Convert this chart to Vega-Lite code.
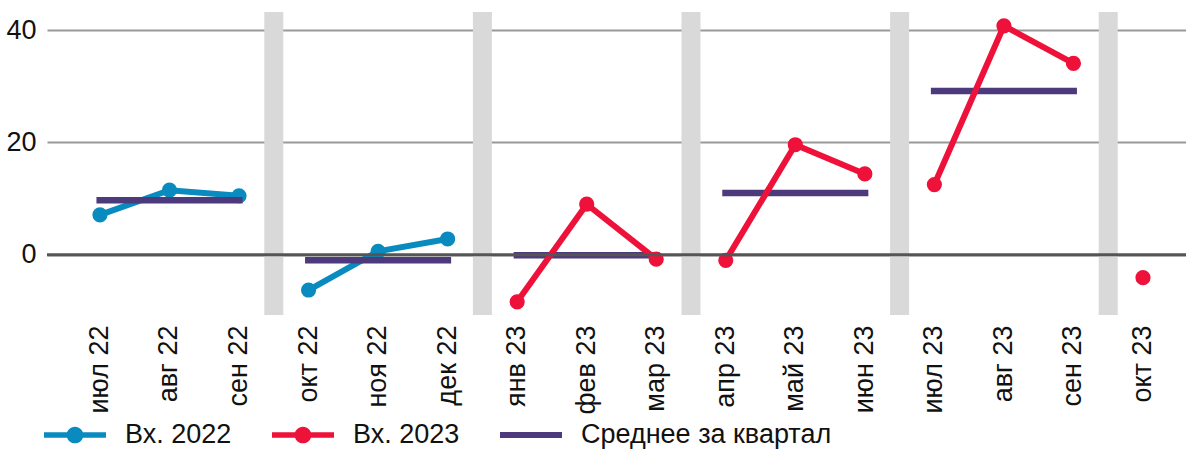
{
  "$schema": "https://vega.github.io/schema/vega-lite/v6.json",
  "autosize": "none",
  "width": 1139,
  "height": 303,
  "padding": {"left": 47, "top": 12, "right": 0, "bottom": 134},
  "background": "white",
  "config": {
    "view": {"stroke": null},
    "font": "Liberation Sans",
    "axis": {"labelFont": "Liberation Sans", "labelColor": "#111111"},
    "legend": {"labelFont": "Liberation Sans"}
  },
  "datasets": {
    "pts": [
      {"month": "июл 22", "value": 7.1, "series": "Вх. 2022", "quarter": "Q3 22"},
      {"month": "авг 22", "value": 11.5, "series": "Вх. 2022", "quarter": "Q3 22"},
      {"month": "сен 22", "value": 10.5, "series": "Вх. 2022", "quarter": "Q3 22"},
      {"month": "окт 22", "value": -6.3, "series": "Вх. 2022", "quarter": "Q4 22"},
      {"month": "ноя 22", "value": 0.6, "series": "Вх. 2022", "quarter": "Q4 22"},
      {"month": "дек 22", "value": 2.8, "series": "Вх. 2022", "quarter": "Q4 22"},
      {"month": "янв 23", "value": -8.4, "series": "Вх. 2023", "quarter": "Q1 23"},
      {"month": "фев 23", "value": 9.0, "series": "Вх. 2023", "quarter": "Q1 23"},
      {"month": "мар 23", "value": -0.8, "series": "Вх. 2023", "quarter": "Q1 23"},
      {"month": "апр 23", "value": -1.0, "series": "Вх. 2023", "quarter": "Q2 23"},
      {"month": "май 23", "value": 19.6, "series": "Вх. 2023", "quarter": "Q2 23"},
      {"month": "июн 23", "value": 14.4, "series": "Вх. 2023", "quarter": "Q2 23"},
      {"month": "июл 23", "value": 12.5, "series": "Вх. 2023", "quarter": "Q3 23"},
      {"month": "авг 23", "value": 40.8, "series": "Вх. 2023", "quarter": "Q3 23"},
      {"month": "сен 23", "value": 34.1, "series": "Вх. 2023", "quarter": "Q3 23"},
      {"month": "окт 23", "value": -4.1, "series": "Вх. 2023", "quarter": "Q4 23"}
    ],
    "avg": [
      {"start": "июл 22", "end": "сен 22", "value": 9.7, "series": "Среднее за квартал"},
      {"start": "окт 22", "end": "дек 22", "value": -1.0, "series": "Среднее за квартал"},
      {"start": "янв 23", "end": "мар 23", "value": -0.1, "series": "Среднее за квартал"},
      {"start": "апр 23", "end": "июн 23", "value": 11.0, "series": "Среднее за квартал"},
      {"start": "июл 23", "end": "сен 23", "value": 29.2, "series": "Среднее за квартал"}
    ],
    "seps": [
      {"month": "окт 22"},
      {"month": "янв 23"},
      {"month": "апр 23"},
      {"month": "июл 23"},
      {"month": "окт 23"}
    ],
    "zero": [{"value": 0}]
  },
  "encoding": {
    "x": {
      "field": "month",
      "type": "nominal",
      "scale": {
        "domain": ["июл 22","авг 22","сен 22","окт 22","ноя 22","дек 22","янв 23","фев 23","мар 23","апр 23","май 23","июн 23","июл 23","авг 23","сен 23","окт 23"],
        "paddingInner": 0,
        "paddingOuter": 0.19,
        "align": 0.688
      },
      "axis": {
        "title": null,
        "labelAngle": -90,
        "labelFontSize": 27,
        "labelPadding": 10,
        "labelLimit": 300,
        "domain": false,
        "ticks": false,
        "grid": false
      }
    },
    "y": {
      "field": "value",
      "type": "quantitative",
      "scale": {"domain": [-10.75, 43.26], "nice": false, "zero": false},
      "axis": {
        "title": null,
        "values": [0, 20, 40],
        "labelFontSize": 27,
        "labelPadding": 11,
        "domain": false,
        "ticks": false,
        "grid": true,
        "gridColor": "#999999",
        "gridWidth": 2
      }
    },
    "color": {
      "field": "series",
      "type": "nominal",
      "scale": {
        "domain": ["Вх. 2022", "Вх. 2023", "Среднее за квартал"],
        "range": ["#0a8bbf", "#ee1139", "#4d3a7d"]
      },
      "legend": {
        "title": null,
        "orient": "none",
        "direction": "horizontal",
        "legendX": -3,
        "legendY": 392,
        "padding": 0,
        "labelFontSize": 27,
        "labelLimit": 500,
        "labelColor": "#111111",
        "labelOffset": 19,
        "columnPadding": 40,
        "symbolSize": 3844,
        "symbolStrokeWidth": 0,
        "symbolOpacity": 1,
        "encode": {
          "symbols": {
            "update": {
              "shape": {"signal": "datum.value === 'Среднее за квартал' ? 'M-1,-0.1L1,-0.1L1,0.1L-1,0.1Z' : 'M-1,-0.085L1,-0.085L1,0.085L-1,0.085Z M0.27,0 A0.27,0.27 0 1,1 -0.27,0 A0.27,0.27 0 1,1 0.27,0 Z'"},
              "fill": {"scale": "color", "field": "value"},
              "strokeWidth": {"value": 0},
              "opacity": {"value": 1}
            }
          }
        }
      }
    }
  },
  "layer": [
    {
      "data": {"name": "seps"},
      "mark": {"type": "rule", "color": "#d9d9d9", "strokeWidth": 19},
      "encoding": {
        "x": {"field": "month", "type": "nominal", "bandPosition": 0},
        "y": null,
        "color": null
      }
    },
    {
      "data": {"name": "pts"},
      "transform": [{"filter": "datum.series === 'Вх. 2022'"}],
      "mark": {"type": "line", "strokeWidth": 6},
      "encoding": {"detail": {"field": "quarter"}}
    },
    {
      "data": {"name": "pts"},
      "transform": [{"filter": "datum.series === 'Вх. 2022'"}],
      "mark": {"type": "point", "filled": true, "size": 230, "opacity": 1}
    },
    {
      "data": {"name": "avg"},
      "mark": {"type": "rule", "strokeWidth": 6.5, "xOffset": -3.5, "x2Offset": 3.5},
      "encoding": {
        "x": {"field": "start", "type": "nominal"},
        "x2": {"field": "end"}
      }
    },
    {
      "data": {"name": "pts"},
      "transform": [{"filter": "datum.series === 'Вх. 2023'"}],
      "mark": {"type": "line", "strokeWidth": 6},
      "encoding": {"detail": {"field": "quarter"}}
    },
    {
      "data": {"name": "pts"},
      "transform": [{"filter": "datum.series === 'Вх. 2023'"}],
      "mark": {"type": "point", "filled": true, "size": 230, "opacity": 1}
    },
    {
      "data": {"name": "zero"},
      "mark": {"type": "rule", "color": "#555555", "strokeWidth": 3},
      "encoding": {
        "x": null,
        "color": null
      }
    }
  ]
}
